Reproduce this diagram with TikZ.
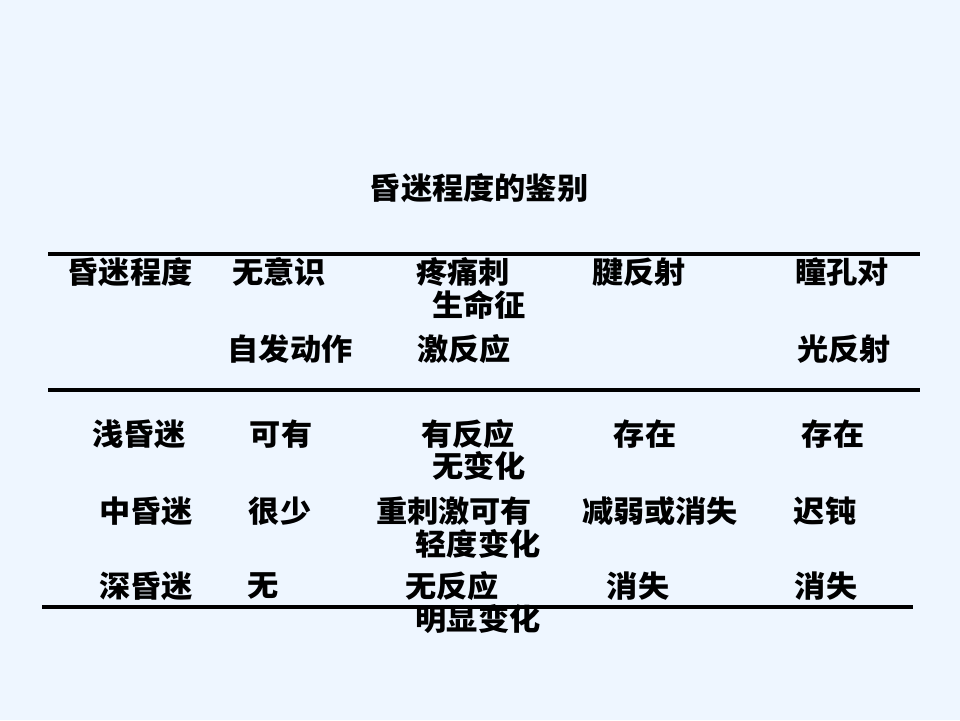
\documentclass[tikz,border=0pt]{standalone}
\usepackage{fontspec}
\newfontfamily\cjk[FakeStretch=1.04]{Noto Sans CJK SC}
\usetikzlibrary{calc}
\definecolor{slidebg}{RGB}{238,246,255}
\tikzset{
  cell/.style={inner sep=0pt,anchor=center,font=\cjk\bfseries\fontsize{30}{30}\selectfont},
  rule/.style={line width=3.2pt}
}

\begin{document}
\begin{tikzpicture}[x=1pt,y=-1pt]
    \fill[slidebg] (0,0) rectangle (960,720);
    \useasboundingbox (0,0) rectangle (960,720);

    \node[cell] (title) at (479,188) {昏迷程度的鉴别};

    % table rules
    \coordinate (top_l) at (48,254);  \coordinate (top_r) at (920,254);
    \coordinate (mid_l) at (48,390);  \coordinate (mid_r) at (920,390);
    \coordinate (bot_l) at (42,607);  \coordinate (bot_r) at (913,607);
    \draw[rule] (top_l) -- (top_r);
    \draw[rule] (mid_l) -- (mid_r);
    \draw[rule] (bot_l) -- (bot_r);

    % header
    \foreach \n/\x/\y/\t in {h_1/130/272/昏迷程度, h_2/279/272/无意识, h_3/463/272/疼痛刺,
        h_4/639/272/腱反射, h_5/842/272/瞳孔对, h_6/479/305/生命征,
        h_7/290/349/自发动作, h_8/464/349/激反应, h_9/844/349/光反射} {
      \node[cell] (\n) at (\x,\y) {\t};
    }

    % rows
    \foreach \n/\x/\y/\t in {a_1/139/434/浅昏迷, a_2/281/434/可有, a_3/468/434/有反应,
        a_4/645/434/存在, a_5/833/434/存在, a_6/479/466/无变化} {
      \node[cell] (\n) at (\x,\y) {\t};
    }
    \foreach \n/\x/\y/\t in {b_1/146/511/中昏迷, b_2/280/511/很少, b_3/454/511/重刺激可有,
        b_4/660/511/减弱或消失, b_5/825/511/迟钝, b_6/478/544/轻度变化} {
      \node[cell] (\n) at (\x,\y) {\t};
    }
    \foreach \n/\x/\y/\t in {c_1/146/586/深昏迷, c_2/263/586/无, c_3/452/586/无反应,
        c_4/638/586/消失, c_5/826/586/消失, c_6/478/619/明显变化} {
      \node[cell] (\n) at (\x,\y) {\t};
    }
  \end{tikzpicture}
\end{document}
